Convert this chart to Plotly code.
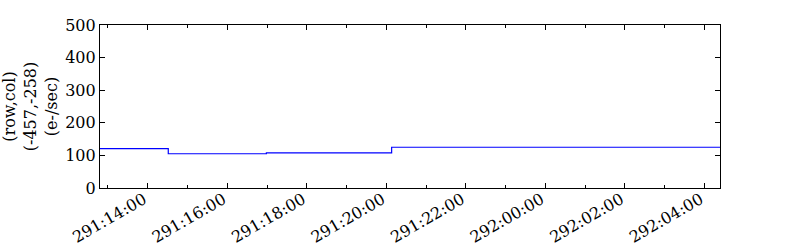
import plotly.graph_objects as go

# Data (time as "day:hh:mm", rate in e-/sec)
times = ["291:12:48", "291:14:31", "291:16:59", "291:20:08", "292:04:24"]
values = [121, 105, 108, 125, 125]

tick_labels = ["291:14:00", "291:16:00", "291:18:00", "291:20:00",
               "291:22:00", "292:00:00", "292:02:00", "292:04:00"]


def to_hours(s):
    d, h, m = s.split(":")
    return (int(d) - 291) * 24 + int(h) + int(m) / 60.0


x = [to_hours(t) for t in times]
tickvals = [to_hours(t) for t in tick_labels]

fig = go.Figure()
fig.add_trace(go.Scatter(x=x, y=values, mode="lines", line_shape="hv",
                         line=dict(color="#0000ff", width=1.2),
                         showlegend=False, hoverinfo="skip"))

font = dict(family="DejaVu Serif", size=16, color="black")

fig.update_layout(
    width=800, height=250,
    margin=dict(l=100, r=80, t=25, b=62),
    paper_bgcolor="white", plot_bgcolor="white",
    font=font,
)
fig.update_xaxes(
    range=[12.80, 28.39], automargin=False,
    tickmode="array", tickvals=tickvals, ticktext=tick_labels,
    tickangle=-30, ticks="inside", ticklen=5, tickcolor="black",
    ticklabelstandoff=-5, ticklabelshift=-4,
    showline=True, linecolor="black", linewidth=1.2, mirror="ticks",
    showgrid=False, zeroline=False,
    minor=dict(tick0=0, dtick=1, ticks="inside", ticklen=3, tickcolor="black", showgrid=False),
    tickfont=font,
)
fig.update_yaxes(
    range=[0, 500], tickvals=[0, 100, 200, 300, 400, 500], automargin=False,
    ticks="inside", ticklen=5, tickcolor="black",
    showline=True, linecolor="black", linewidth=1.2, mirror="ticks",
    showgrid=False, zeroline=False,
    title=dict(text="(row,col)<br>(-457,-258)<br>(e-/sec)", font=font, standoff=6),
    tickfont=font,
)

fig.write_html("out.html")
